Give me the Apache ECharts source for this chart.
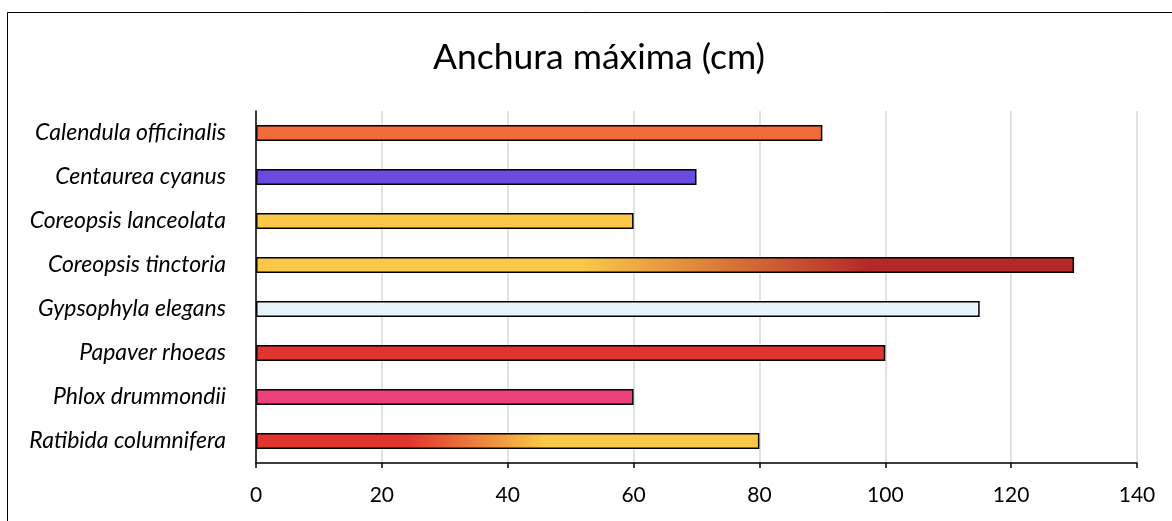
<!DOCTYPE html>
<html><head><meta charset="utf-8">
<script src="https://cdn.jsdelivr.net/npm/echarts@6/dist/echarts.min.js"></script>
<style>html,body{margin:0;padding:0;background:#fff}#c{width:1172px;height:521px}</style>
</head><body><div id="c"></div>
<script>
const categories = ["Calendula officinalis","Centaurea cyanus","Coreopsis lanceolata","Coreopsis tinctoria","Gypsophyla elegans","Papaver rhoeas","Phlox drummondii","Ratibida columnifera"];
const values = [90, 70, 60, 130, 115, 100, 60, 80];
const xTicks = [0, 20, 40, 60, 80, 100, 120, 140];
const title = "Anchura máxima (cm)";

function grad(stops){ return new echarts.graphic.LinearGradient(0,0,1,0,stops); }
const fills = [
  "#F06A3A",
  "#6A4BE0",
  "#FAC748",
  grad([{offset:0,color:"#FAC748"},{offset:0.40,color:"#FAC748"},{offset:0.75,color:"#B52828"},{offset:1,color:"#B52828"}]),
  "#E8F4FC",
  "#E0342F",
  "#EC407A",
  grad([{offset:0,color:"#E0342F"},{offset:0.30,color:"#E0342F"},{offset:0.57,color:"#FAC748"},{offset:1,color:"#FAC748"}])
];

const chart = echarts.init(document.getElementById('c'), null, {renderer:'canvas'});
chart.setOption({
  animation:false,
  title:{text:title,left:428,top:35,textStyle:{fontFamily:'Lato',fontWeight:'normal',fontSize:35.5,color:'#000'}},
  graphic:[{type:'rect',shape:{x:7.5,y:12.5,width:1180,height:520},style:{fill:'none',stroke:'#000',lineWidth:1}}],
  grid:{left:256,right:35,top:111,bottom:58},
  xAxis:{type:'value',min:0,max:140,interval:20,
    axisLine:{show:true,lineStyle:{color:'#000',width:1.5}},
    axisTick:{show:true,length:5,lineStyle:{color:'#000',width:1.5}},
    axisLabel:{color:'#000',fontFamily:'Lato',fontSize:21,margin:22,
      formatter:v=>xTicks.includes(v)?String(v):''},
    splitLine:{show:true,lineStyle:{color:'#D9D9D9',width:1.5}}},
  yAxis:{type:'category',data:categories,inverse:true,
    axisLine:{show:true,lineStyle:{color:'#000',width:1.5}},
    axisTick:{show:false},
    axisLabel:{color:'#000',fontFamily:'Lato',fontStyle:'italic',fontSize:23,margin:30}},
  series:[{type:'bar',barWidth:16,
    data:values.map((v,i)=>({value:v,itemStyle:{color:fills[i]}})),
    itemStyle:{borderColor:'#000',borderWidth:1.5}}]
});
</script></body></html>
